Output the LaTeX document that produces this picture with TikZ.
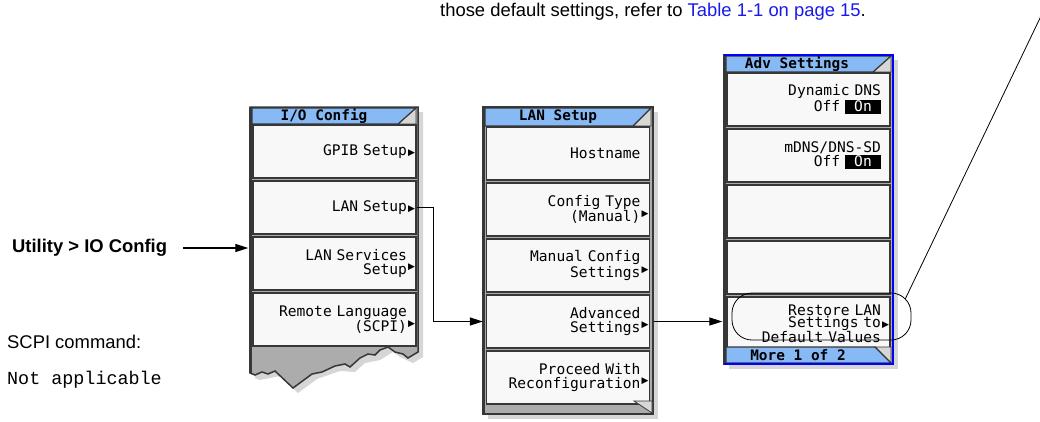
\documentclass[tikz,border=0pt]{standalone}
\usepackage{fontspec}
\setmainfont{Liberation Sans}
\setmonofont{Liberation Mono}
\newfontfamily\esgfont{DejaVu Sans Mono}
\newfontfamily\symfont{DejaVu Sans}
\usetikzlibrary{arrows.meta}
\usetikzlibrary{calc,positioning}

\definecolor{titleblue}{RGB}{135,185,245}
\definecolor{keyfill}{RGB}{248,248,248}
\definecolor{keyedge}{RGB}{55,55,55}
\definecolor{panelgray}{RGB}{172,172,172}
\definecolor{notchgray}{RGB}{215,215,215}
\definecolor{advblue}{RGB}{0,0,255}
\definecolor{linkblue}{RGB}{25,25,235}

\newcommand{\keyfont}{\esgfont\fontsize{14.6}{13.2}\selectfont}
\newcommand{\bodyfont}{\fontsize{18.4}{22}\selectfont}
\newcommand{\subkey}{\rlap{\hspace{1pt}{\symfont\fontsize{9}{9}\selectfont ▶}}}
\newcommand{\subkeyup}{\rlap{\hspace{1pt}\raisebox{5pt}{\symfont\fontsize{9}{9}\selectfont ▶}}}
\newcommand{\onbox}{{\setlength{\fboxsep}{0pt}\colorbox{black}{\rule[-3pt]{0pt}{14pt}\makebox[36pt]{\color{white}On}}}}

\begin{document}
\begin{tikzpicture}[x=1pt, y=-1pt,
	softkey/.style={draw=keyedge, line width=1.3pt, fill=keyfill, minimum width=163pt,
		minimum height=53pt, text width=145pt, align=right, inner xsep=9pt, inner ysep=0pt, font=\keyfont},
	panel/.style={draw=keyedge, line width=1.5pt, fill=panelgray},
	titlebar/.style={draw=keyedge, line width=1.2pt, fill=titleblue},
	titletext/.style={font=\esgfont\bfseries\fontsize{14.4}{14.4}\selectfont, inner sep=0pt},
	shade/.style={fill=black!16},
	notch/.style={fill=notchgray, draw=keyedge, line width=0.8pt},
	flow/.style={-{Triangle[length=13pt,width=8pt]}, line width=1.1pt},
	ring/.style={draw, line width=0.8pt, rounded corners=20pt, minimum width=179pt, minimum height=47pt, inner sep=0pt},
	body/.style={font=\bodyfont, inner sep=0pt}]
\useasboundingbox (0,0) rectangle (1040,421);

% text on the left and at the top
\node[body, anchor=base west] (note) at (440,16) {those default settings, refer to \textcolor{linkblue}{Table 1-1 on page 15}.};
\node[body, anchor=west, font=\bodyfont\bfseries] (util) at (12,248) {Utility > IO Config};
\node[body, anchor=west] (scpi) at (7,342) {SCPI command:};
\node[body, anchor=west, font=\bodyfont\ttfamily] (scpicmd) at (7,380) {Not applicable};

% I/O Config panel
\fill[shade, xshift=5pt, yshift=-5pt] (250,107) -- (418,107) -- (418,352) -- (408,358) -- (395,352) -- (388,347)
	-- (375,355) -- (360,358) -- (350,367) -- (335,366) -- (312,374) -- (293,388) -- (275,371) -- (255,375) -- (250,373) -- cycle;
\filldraw[panel] (250,107) -- (418,107) -- (418,352) -- (413,355) -- (408,358) -- (403,354) -- (395,352) -- (388,347)
	-- (380,350) -- (375,355) -- (368,354) -- (360,358) -- (350,367) -- (345,364) -- (335,366) -- (322,372) -- (312,374)
	-- (293,388) -- (275,371) -- (268,374) -- (262,372) -- (255,375) -- (250,373) -- cycle;
\draw[keyedge, line width=3pt] (250,107) -- (250,373);
\fill[notch] (398,124) -- (416,108) -- (416,124) -- cycle;
\filldraw[titlebar] (252,108) -- (416,108) -- (398,124) -- (252,124) -- cycle;
\node[titletext] (iotitle) at (324,116) {I/O Config};
\node[softkey] (io1) at (334.5,151.5) {GPIB Setup\subkey};
\node[softkey, below=1.7pt of io1] (io2) {LAN Setup\subkey};
\node[softkey, below=1.7pt of io2] (io3) {LAN Services\\Setup\subkeyup};
\node[softkey, below=1.7pt of io3] (io4) {Remote Language\\(SCPI)\subkeyup};

% LAN Setup panel
\fill[shade, xshift=5pt, yshift=-5pt] (483,107) rectangle (653,414);
\filldraw[panel] (483,107) rectangle (653,414);
\draw[keyedge, line width=3pt] (483,107) -- (483,414);
\fill[notch] (633,126) -- (651,108) -- (651,126) -- cycle;
\filldraw[titlebar] (485,108) -- (651,108) -- (633,126) -- (485,126) -- cycle;
\node[titletext] (lantitle) at (558,117) {LAN Setup};
\node[softkey] (lan1) at (568,153.5) {Hostname};
\node[softkey, below=1.7pt of lan1] (lan2) {Config Type\\(Manual)\subkeyup};
\node[softkey, below=1.7pt of lan2] (lan3) {Manual Config\\Settings\subkeyup};
\node[softkey, below=1.7pt of lan3] (lan4) {Advanced\\Settings\subkeyup};
\node[softkey, below=1.7pt of lan4] (lan5) {Proceed With\\Reconfiguration\subkeyup};
\fill[notch] (634,401) -- (652,401) -- (652,413) -- cycle;

% Adv Settings panel
\fill[shade, xshift=5pt, yshift=-5pt] (724,55) rectangle (893,364);
\filldraw[panel] (724,55) rectangle (893,364);
\draw[keyedge, line width=3pt] (724,55) -- (724,364);
\fill[notch] (873,72) -- (891,56) -- (891,72) -- cycle;
\filldraw[titlebar] (726,56) -- (891,56) -- (873,72) -- (726,72) -- cycle;
\node[titletext] (advtitle) at (797,64) {Adv Settings};
\node[softkey] (adv1) at (808.5,99.5) {Dynamic DNS\\Off \onbox};
\node[softkey, below=1.7pt of adv1] (adv2) {mDNS/DNS-SD\\Off \onbox};
\node[softkey, below=1.7pt of adv2] (adv3) {};
\node[softkey, below=1.7pt of adv3] (adv4) {};
\node[softkey, below=1.7pt of adv4, font=\esgfont\fontsize{14.6}{12}\selectfont] (adv5) {Restore LAN\\Settings to\subkey\\Default Values};
\fill[notch] (875,347) -- (891,347) -- (891,363) -- cycle;
\filldraw[titlebar] (726,347) -- (875,347) -- (891,363) -- (726,363) -- cycle;
\node[titletext] (advmore) at (798,355) {More 1 of 2};
\draw[advblue, line width=2pt] (724,55) -- (893,55) -- (893,364) -- (724,364);

% callout
\node[ring] (ring) at (821.5,316.5) {};
\coordinate (callout) at (1041,16);
\draw[line width=0.8pt] ($(ring.north east)+(-6,6)$) -- (callout);

% menu paths
\draw[flow, shorten >=4pt] ([xshift=16pt]util.east) -- (util.east -| io3.west);
\draw[flow, shorten >=3pt] (io2.east) -- ++(17,0) |- (lan4.west);
\draw[flow, shorten <=4pt, shorten >=4pt] (lan4.east) -- (lan4.east -| adv5.west);
\end{tikzpicture}
\end{document}
